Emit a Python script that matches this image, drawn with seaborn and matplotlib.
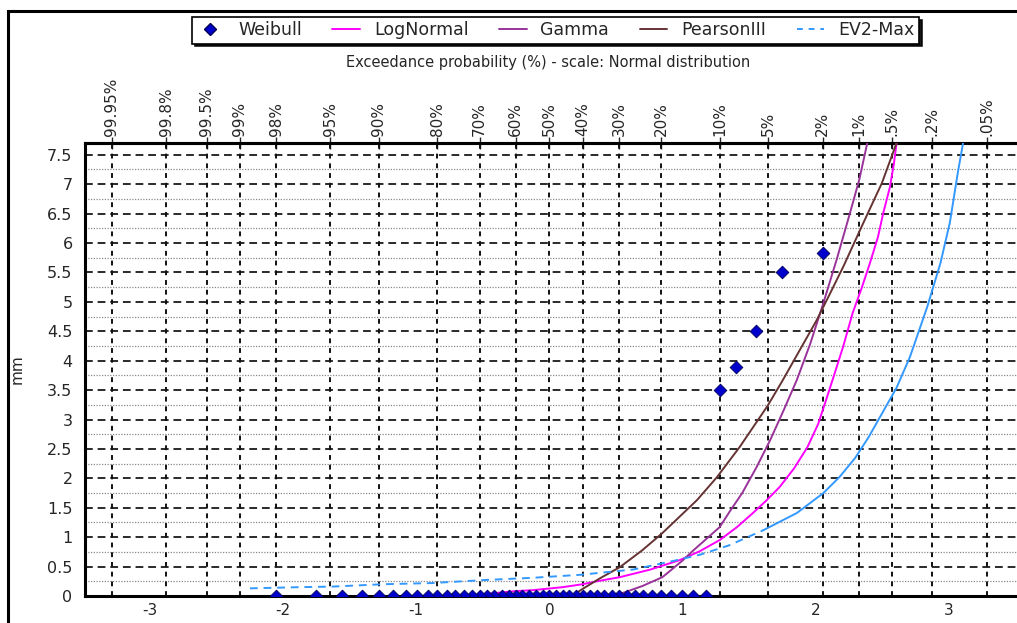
import matplotlib
matplotlib.use("Agg")
import matplotlib.pyplot as plt
from matplotlib.lines import Line2D
from matplotlib.patches import Rectangle
import seaborn as sns
from statistics import NormalDist

# top axis: exceedance probability (%) on a normal scale
top_probs = [99.95, 99.8, 99.5, 99, 98, 95, 90, 80, 70, 60, 50, 40, 30, 20, 10, 5, 2, 1, 0.5, 0.2, 0.05]
top_labels = ["99.95%", "99.8%", "99.5%", "99%", "98%", "95%", "90%", "80%", "70%", "60%", "50%",
              "40%", "30%", "20%", "10%", "5%", "2%", "1%", ".5%", ".2%", ".05%"]
bottom_ticks = [-3, -2, -1, 0, 1, 2, 3]
y_ticks = [0, 0.5, 1, 1.5, 2, 2.5, 3, 3.5, 4, 4.5, 5, 5.5, 6, 6.5, 7, 7.5]

# observed values (mm), largest first -> Weibull plotting position i/(n+1)
weibull_mm = [5.83, 5.5, 4.5, 3.9, 3.5] + [0.0] * 44

# fitted curves (x = standard normal variate, y = mm)
lognormal_z = [-0.50, -0.27, -0.12, 0.10, 0.25, 0.38, 0.53, 0.76, 0.98, 1.13, 1.28, 1.41, 1.53, 1.63,
               1.73, 1.84, 1.94, 2.02, 2.08, 2.14, 2.21, 2.28, 2.35, 2.41, 2.47, 2.51, 2.56, 2.59, 2.61]
lognormal_mm = [0.03, 0.08, 0.10, 0.15, 0.20, 0.26, 0.32, 0.45, 0.61, 0.76, 0.95, 1.17, 1.41, 1.62,
                1.85, 2.17, 2.53, 2.92, 3.33, 3.75, 4.25, 4.81, 5.25, 5.66, 6.10, 6.51, 6.95, 7.35, 7.70]

gamma_z = [0.42, 0.55, 0.70, 0.85, 1.00, 1.08, 1.18, 1.28, 1.36, 1.45, 1.56, 1.66, 1.76, 1.86,
           1.96, 2.06, 2.16, 2.26, 2.33, 2.39]
gamma_mm = [0.0, 0.05, 0.17, 0.32, 0.60, 0.77, 0.97, 1.17, 1.45, 1.75, 2.20, 2.65, 3.15, 3.67,
            4.28, 4.98, 5.72, 6.51, 7.08, 7.70]

pearson_z = [0.17, 0.25, 0.38, 0.53, 0.70, 0.85, 0.98, 1.11, 1.26, 1.43, 1.55, 1.64, 1.75, 1.86,
             2.01, 2.09, 2.21, 2.36, 2.50, 2.61]
pearson_mm = [0.0, 0.12, 0.30, 0.49, 0.78, 1.07, 1.35, 1.63, 2.02, 2.53, 2.93, 3.23, 3.65, 4.09,
              4.69, 5.05, 5.60, 6.34, 7.02, 7.70]

ev2_z = [-2.25, -1.88, -1.63, -1.25, -0.88, -0.50, -0.12, 0.23, 0.63, 0.90, 1.13, 1.35, 1.61, 1.86,
         2.06, 2.18, 2.30, 2.40, 2.50, 2.61, 2.71, 2.84, 2.94, 3.01, 3.07, 3.11]
ev2_mm = [0.13, 0.15, 0.16, 0.20, 0.22, 0.27, 0.31, 0.36, 0.45, 0.58, 0.70, 0.86, 1.12, 1.41,
          1.75, 2.02, 2.35, 2.70, 3.10, 3.54, 4.06, 4.91, 5.66, 6.34, 7.19, 7.70]

c_weibull = "#0000cc"
c_lognormal = "#ff00ff"
c_gamma = "#993399"
c_pearson = "#663333"
c_ev2 = "#3399ff"

sns.set_style("white")
plt.rcParams["font.family"] = ["DejaVu Sans"]
plt.rcParams["axes.unicode_minus"] = False

nd = NormalDist()
top_z = [nd.inv_cdf(1 - p / 100) for p in top_probs]
n = len(weibull_mm)
weibull_z = [nd.inv_cdf(1 - (i + 1) / (n + 1)) for i in range(n)]

fig = plt.figure(figsize=(10.17, 6.23), dpi=100)
ax = fig.add_axes([85 / 1017, 27 / 623, 945 / 1017, 453 / 623])
ax.set_xlim(-3.49, 3.613)
ax.set_ylim(0, 7.7)

# grid
for v in y_ticks[1:]:
    ax.axhline(v, color="#2a2a2a", lw=1.4, ls=(0, (4, 2.5)), zorder=1)
for v in y_ticks:
    ax.axhline(v + 0.25, color="#8a8a8a", lw=0.9, ls=(0, (1, 1.2)), zorder=1)
for v in top_z:
    ax.axvline(v, color="#111111", lw=1.4, ls=(0, (2.5, 2.5)), zorder=1)

sns.lineplot(x=lognormal_z, y=lognormal_mm, ax=ax, color=c_lognormal, lw=1.4,
             sort=False, estimator=None, legend=False, zorder=3)
sns.lineplot(x=gamma_z, y=gamma_mm, ax=ax, color=c_gamma, lw=1.4,
             sort=False, estimator=None, legend=False, zorder=3)
sns.lineplot(x=pearson_z, y=pearson_mm, ax=ax, color=c_pearson, lw=1.4,
             sort=False, estimator=None, legend=False, zorder=3)
k = 12  # dashed on the flat part, looks solid where it gets steep
sns.lineplot(x=ev2_z[:k + 1], y=ev2_mm[:k + 1], ax=ax, color=c_ev2, lw=1.4, linestyle=(0, (4, 3)),
             sort=False, estimator=None, legend=False, zorder=3)
sns.lineplot(x=ev2_z[k:], y=ev2_mm[k:], ax=ax, color=c_ev2, lw=1.4,
             sort=False, estimator=None, legend=False, zorder=3)
sns.scatterplot(x=weibull_z, y=weibull_mm, ax=ax, marker="D", s=42, color=c_weibull,
                edgecolor="#000055", linewidth=0.6, legend=False, zorder=5)

for s in ["top", "bottom", "left"]:
    ax.spines[s].set_linewidth(2.2)
    ax.spines[s].set_color("black")
ax.spines["right"].set_visible(False)

ax.set_yticks(y_ticks)
ax.set_yticklabels([f"{v:g}" for v in y_ticks])
ax.set_xticks(bottom_ticks)
ax.set_xticklabels([str(v) for v in bottom_ticks])
ax.tick_params(axis="y", direction="out", length=6, width=1, color="#444444", labelsize=11.5, pad=3)
ax.tick_params(axis="x", direction="out", length=4, width=1, color="#666666", labelsize=11, pad=1)
ax.set_xlabel("")
ax.set_ylabel("mm", fontsize=11)
ax.yaxis.set_label_coords(-0.064, 0.5)

sec = ax.secondary_xaxis("top")
sec.set_xticks(top_z)
sec.set_xticklabels(top_labels)
sec.tick_params(axis="x", direction="inout", length=8, width=1, labelsize=11, labelrotation=90, pad=1)
sec.spines["top"].set_linewidth(2.2)

fig.text(548 / 1017, 1 - 63 / 623, "Exceedance probability (%) - scale: Normal distribution",
         ha="center", va="center", fontsize=10.5)

handles = [
    Line2D([], [], marker="D", color=c_weibull, markeredgecolor="#000055", linestyle="none", markersize=6),
    Line2D([], [], color=c_lognormal, lw=1.4),
    Line2D([], [], color=c_gamma, lw=1.4),
    Line2D([], [], color=c_pearson, lw=1.4),
    Line2D([], [], color=c_ev2, lw=1.4, ls=(0, (3, 3))),
]
labels = ["Weibull", "LogNormal", "Gamma", "PearsonIII", "EV2-Max"]
leg = fig.legend(handles, labels, loc="upper left", bbox_to_anchor=(192 / 1017, 1 - 17 / 623),
                 ncol=5, frameon=True, fancybox=False, shadow={"color": "black", "alpha": 0.9},
                 edgecolor="black", fontsize=12.5, handlelength=1.6, columnspacing=1.75,
                 handletextpad=0.8, borderpad=0.25, borderaxespad=0)
leg.get_frame().set_linewidth(1.2)

# outer frame of the chart image
fig.add_artist(Rectangle((8 / 1017, -0.5), 2, 1.5 - 11 / 623, transform=fig.transFigure,
                         fill=False, lw=2.2, edgecolor="black", clip_on=False))

fig.savefig("out.png", dpi=100)
